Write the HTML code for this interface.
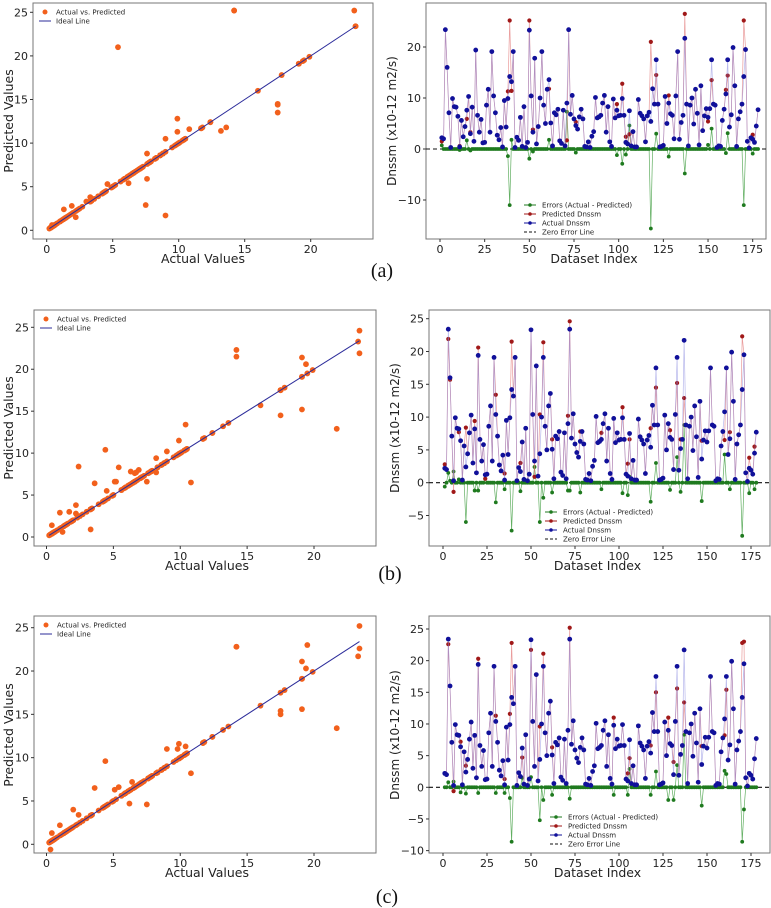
<!DOCTYPE html>
<html><head><meta charset="utf-8">
<style>
html,body{margin:0;padding:0;background:#fff;}
svg{display:block;font-family:"DejaVu Sans","Liberation Sans",sans-serif;}
</style></head>
<body>
<svg id="fig" width="771" height="908" viewBox="0 0 771 908" xmlns="http://www.w3.org/2000/svg"></svg>
<script>
// Actual Dnssm values, dataset index 1..178
const actual = [2.2,2.0,23.4,16.0,7.1,0.3,9.9,8.3,8.2,6.4,0.4,5.6,2.4,4.4,7.6,10.3,3.0,8.2,1.5,19.4,
6.6,3.3,5.8,1.2,1.3,8.6,11.7,3.3,19.1,10.4,7.1,2.7,1.8,4.2,0.4,9.5,4.3,9.9,14.2,13.2,
19.1,0.3,2.3,1.7,6.2,0.5,8.3,0.3,1.3,23.3,10.4,3.3,17.8,1.0,4.4,10.0,19.1,8.6,5.0,11.7,
13.6,5.1,0.6,7.1,6.7,7.8,1.6,1.1,7.6,0.6,9.0,23.4,6.8,10.5,5.9,4.6,3.9,6.3,7.8,5.9,
0.5,0.4,1.4,0.3,2.5,3.4,10.1,6.1,6.3,6.6,9.0,10.5,3.3,8.3,1.4,0.5,9.8,6.1,7.6,6.5,
6.6,9.9,6.6,1.3,1.0,7.5,0.6,3.4,0.4,0.4,9.7,7.0,6.5,5.9,1.4,6.5,7.2,5.4,11.8,8.8,
17.5,8.8,0.4,0.5,0.7,10.3,5.0,9.0,6.9,6.6,2.0,10.4,19.1,1.9,5.2,6.6,21.7,8.8,0.6,8.6,
10.0,4.9,11.7,7.0,0.8,12.4,3.6,6.5,7.9,6.2,7.9,17.5,8.8,8.6,0.3,0.6,0.5,5.6,7.8,10.8,
17.5,4.3,6.7,19.9,12.4,0.5,5.9,7.3,8.8,14.2,19.5,1.5,0.2,2.2,1.9,1.3,4.5,7.7];
// Errors (actual - predicted), sparse: dataset index and value
const errIdxA = [1,11,15,17,38,39,40,50,52,61,71,76,99,102,104,106,118,121,128,137,150,152,160,161,170,175];
const errValA = [0.7,-0.2,1.7,-0.3,-1.4,-11.0,1.8,-1.9,-0.5,1.8,7.3,-0.7,-1.2,-2.9,-1.1,4.6,-15.6,3.0,-1.5,-4.8,0.8,4.0,-0.8,3.1,-11.0,-0.9];
const errIdxB = [1,3,4,6,9,13,18,20,24,30,35,39,44,52,55,57,62,71,72,78,90,102,105,106,118,121,129,133,135,137,147,160,163,170,174,177];
const errValB = [-0.6,1.5,0.3,1.7,0.5,-6.0,-1.2,-1.2,0.6,-3.0,-1.0,-7.3,-1.3,2.4,-6.0,-2.3,-1.5,-1.2,-1.2,-1.5,-1.0,-1.6,-1.9,0.9,-2.9,3.0,-1.1,3.9,-1.4,8.8,-2.8,4.3,-1.0,-8.1,-1.6,-1.0];
const errIdxC = [3,6,10,13,20,30,35,38,39,45,50,55,57,62,72,97,105,106,118,121,128,131,133,137,147,160,161,170,171];
const errValC = [0.8,0.9,-0.8,-1.0,-0.9,-0.9,-0.9,-1.7,-8.6,1.5,1.6,-5.2,-2.0,-1.2,-1.8,-1.2,-1.2,2.9,-1.2,2.5,-2.0,-2.0,3.5,8.3,-2.9,2.6,2.1,-8.6,-3.5];
const scatterTicks = [0,5,10,15,20];
const scatterYTicks = [0,5,10,15,20,25];
const indexTicks = [0,25,50,75,100,125,150,175];
const yTicksA = [-10,0,10,20];
const yTicksB = [-5,0,5,10,15,20,25];
const yTicksC = [-10,-5,0,5,10,15,20,25];

const NS='http://www.w3.org/2000/svg';
const svg=document.getElementById('fig');
function mk(tag,attrs,parent){const e=document.createElementNS(NS,tag);for(const k in attrs)e.setAttribute(k,attrs[k]);(parent||svg).appendChild(e);return e;}
function txt(s,attrs,parent){const e=mk('text',attrs,parent);e.textContent=s;return e;}
function lin(d0,d1,p0,p1){return v=>p0+(v-d0)*(p1-p0)/(d1-d0);}
function errorsFull(idx,val){const e=actual.map(()=>0);idx.forEach((k,j)=>{e[k-1]=val[j];});return e;}
const defs=mk('defs',{});
let clipN=0;
function clipFor(P){const id='clip'+(clipN++);const cp=mk('clipPath',{id:id},defs);mk('rect',{x:P.x0,y:P.y0,width:P.x1-P.x0,height:P.y1-P.y0},cp);return 'url(#'+id+')';}

const rows=[
 {tag:'a',err:errorsFull(errIdxA,errValA),
  L:{x0:33,x1:373,y0:3,y1:239,sx:[0,20,46.7,310.7],sy:[0,25,230.3,12.3]},
  R:{x0:426,x1:766,y0:3,y1:239,sx:[0,175,440,752.7],sy:[0,20,149,47],yt:yTicksA},
  lab:[382,277], xt:259, yc:121, legR:[530,205]},
 {tag:'b',err:errorsFull(errIdxB,errValB),
  L:{x0:34,x1:376,y0:310,y1:546,sx:[0,20,46.5,314],sy:[0,25,537,327.3]},
  R:{x0:429,x1:770,y0:310,y1:546,sx:[0,175,443,751],sy:[0,25,482.7,318.7],yt:yTicksB},
  lab:[390,580], xt:566, yc:428, legR:[551,512]},
 {tag:'c',err:errorsFull(errIdxC,errValC),
  L:{x0:34,x1:376,y0:616,y1:853,sx:[0,20,46.5,314],sy:[0,25,844.3,627.7]},
  R:{x0:429,x1:770,y0:616,y1:853,sx:[0,175,443,751],sy:[0,25,787.3,629],yt:yTicksC},
  lab:[387,903], xt:873, yc:735, legR:[556,817]}
];

function frame(g,P){
  const r=mk('rect',{x:P.x0,y:P.y0,width:P.x1-P.x0,height:P.y1-P.y0,fill:'none',stroke:'#777','stroke-width':1},g);
  
  
}
function xticks(g,P,X,ticks){
  ticks.forEach(t=>{const x=X(t);
    mk('line',{x1:x,x2:x,y1:P.y1,y2:P.y1+3,stroke:'#333'},g);
    const e=txt(String(t),{x:x,y:P.y1+14,'font-size':11,'text-anchor':'middle',fill:'#222'},g);
    
    
  });
}
function yticks(g,P,Y,ticks){
  ticks.forEach(t=>{const y=Y(t);
    mk('line',{x1:P.x0-3,x2:P.x0,y1:y,y2:y,stroke:'#333'},g);
    const e=txt(t<0?'\u2212'+Math.abs(t):String(t),{x:P.x0-5,y:y+4,'font-size':11,'text-anchor':'end',fill:'#222'},g);
    
    
  });
}

rows.forEach(row=>{
  const pred=actual.map((a,i)=>a-row.err[i]);
  // ---- scatter panel
  const gL=mk('g',{});
  
  
  const L=row.L, XL=lin(...L.sx), YL=lin(...L.sy);
  frame(gL,L); xticks(gL,L,XL,scatterTicks); yticks(gL,L,YL,scatterYTicks);
  const pl=mk('g',{'clip-path':clipFor(L)},gL);
  actual.forEach((a,i)=>{
    const c=mk('circle',{cx:XL(a),cy:YL(pred[i]),r:2.9,fill:'#f2601c'},pl);
    
    
  });
  const amin=Math.min(...actual),amax=Math.max(...actual);
  const il=mk('line',{x1:XL(amin),y1:YL(amin),x2:XL(amax),y2:YL(amax),stroke:'#2b2b9a','stroke-width':1},gL);
  
  
  const xl=txt('Actual Values',{x:(L.x0+L.x1)/2+ (row.tag==='a'?0:2),y:row.xt+4,'font-size':12.5,'text-anchor':'middle',fill:'#222'},gL);
  
  
  const yl=txt('Predicted Values',{x:0,y:0,'font-size':12.5,'text-anchor':'middle',fill:'#222',transform:`translate(13,${row.yc}) rotate(-90)`},gL);
  
  
  const lg=mk('g',{},gL);
  
  
  mk('circle',{cx:L.x0+12,cy:L.y0+9,r:2.5,fill:'#f2601c'},lg);
  txt('Actual vs. Predicted',{x:L.x0+23,y:L.y0+11.5,'font-size':7,fill:'#222'},lg);
  mk('line',{x1:L.x0+6,x2:L.x0+18,y1:L.y0+18,y2:L.y0+18,stroke:'#2b2b9a'},lg);
  txt('Ideal Line',{x:L.x0+23,y:L.y0+20.5,'font-size':7,fill:'#222'},lg);

  // ---- index panel
  const gR=mk('g',{});
  
  
  const R=row.R, XR=lin(...R.sx), YR=lin(...R.sy);
  frame(gR,R); xticks(gR,R,XR,indexTicks); yticks(gR,R,YR,R.yt);
  const z=mk('line',{x1:R.x0,x2:R.x1,y1:YR(0),y2:YR(0),stroke:'#111','stroke-width':1.1,'stroke-dasharray':'4,3'},gR);
  
  
  const series=[
    {name:'errors-series',vals:row.err,col:'#1f7a1f',lc:'#3a9a3a',r:1.9,op:0.8},
    {name:'predicted-series',vals:pred,col:'#a01818',lc:'#e07070',r:2.1,op:0.7},
    {name:'actual-series',vals:actual,col:'#10109a',lc:'#8080dd',r:2.4,op:0.55}
  ];
  series.forEach(s=>{
    const sg=mk('g',{},gR);
    
    
    const pts=s.vals.map((v,i)=>XR(i+1).toFixed(1)+','+YR(v).toFixed(1)).join(' ');
    mk('polyline',{points:pts,fill:'none',stroke:s.lc,'stroke-width':0.7,opacity:s.op},sg);
    s.vals.forEach((v,i)=>{
      const c=mk('circle',{cx:XR(i+1),cy:YR(v),r:s.r,fill:s.col},sg);
      
      
    });
  });
  const xr=txt('Dataset Index',{x:(R.x0+R.x1)/2-2,y:row.xt+4,'font-size':12.5,'text-anchor':'middle',fill:'#222'},gR);
  
  
  const yr=txt('Dnssm (x10-12 m2/s)',{x:0,y:0,'font-size':12,'text-anchor':'middle',fill:'#222',transform:`translate(${R.x0-30},${row.yc}) rotate(-90)`},gR);
  
  
  const lr=mk('g',{},gR);
  
  
  const [lx,ly]=row.legR;
  const items=[['Errors (Actual - Predicted)','#1f7a1f',false],['Predicted Dnssm','#a01818',false],['Actual Dnssm','#10109a',false],['Zero Error Line','#111',true]];
  items.forEach((it,k)=>{
    const y=ly+k*9;
    mk('line',{x1:lx-6,x2:lx+6,y1:y,y2:y,stroke:it[1],'stroke-width':1,'stroke-dasharray':it[2]?'3,2':'none'},lr);
    if(!it[2]) mk('circle',{cx:lx,cy:y,r:1.8,fill:it[1]},lr);
    txt(it[0],{x:lx+12,y:y+2.5,'font-size':7,fill:'#222'},lr);
  });

  const lab=txt('('+row.tag+')',{x:row.lab[0],y:row.lab[1],'font-size':20,'text-anchor':'middle',fill:'#111','font-family':'"Liberation Serif",serif'});
  
  
});
</script>
</body></html>
